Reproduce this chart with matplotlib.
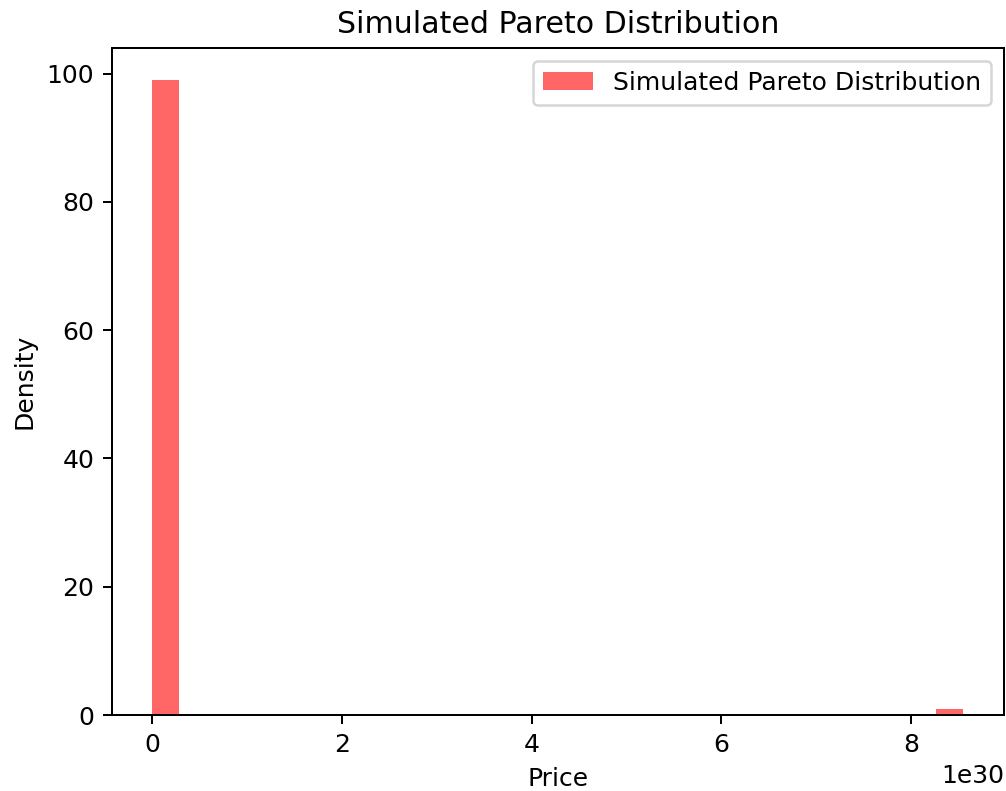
import matplotlib
matplotlib.use("Agg")
import matplotlib.pyplot as plt
import numpy as np

# histogram: 30 bins from 0 to ~8.55e30
bin_max = 8.55e30
n_bins = 30
counts = [99] + [0] * 28 + [1]

edges = np.linspace(0, bin_max, n_bins + 1)
centers = (edges[:-1] + edges[1:]) / 2

dpi = 180
fig = plt.figure(figsize=(1006 / dpi, 791 / dpi), dpi=dpi)
ax = fig.add_axes([0.111, 0.096, 0.887, 0.843])

ax.hist(centers, bins=edges, weights=counts, color='red', alpha=0.6,
        label='Simulated Pareto Distribution')

ax.set_title('Simulated Pareto Distribution')
ax.set_xlabel('Price')
ax.set_ylabel('Density')
ax.legend()

fig.savefig('out.png', dpi=dpi)
